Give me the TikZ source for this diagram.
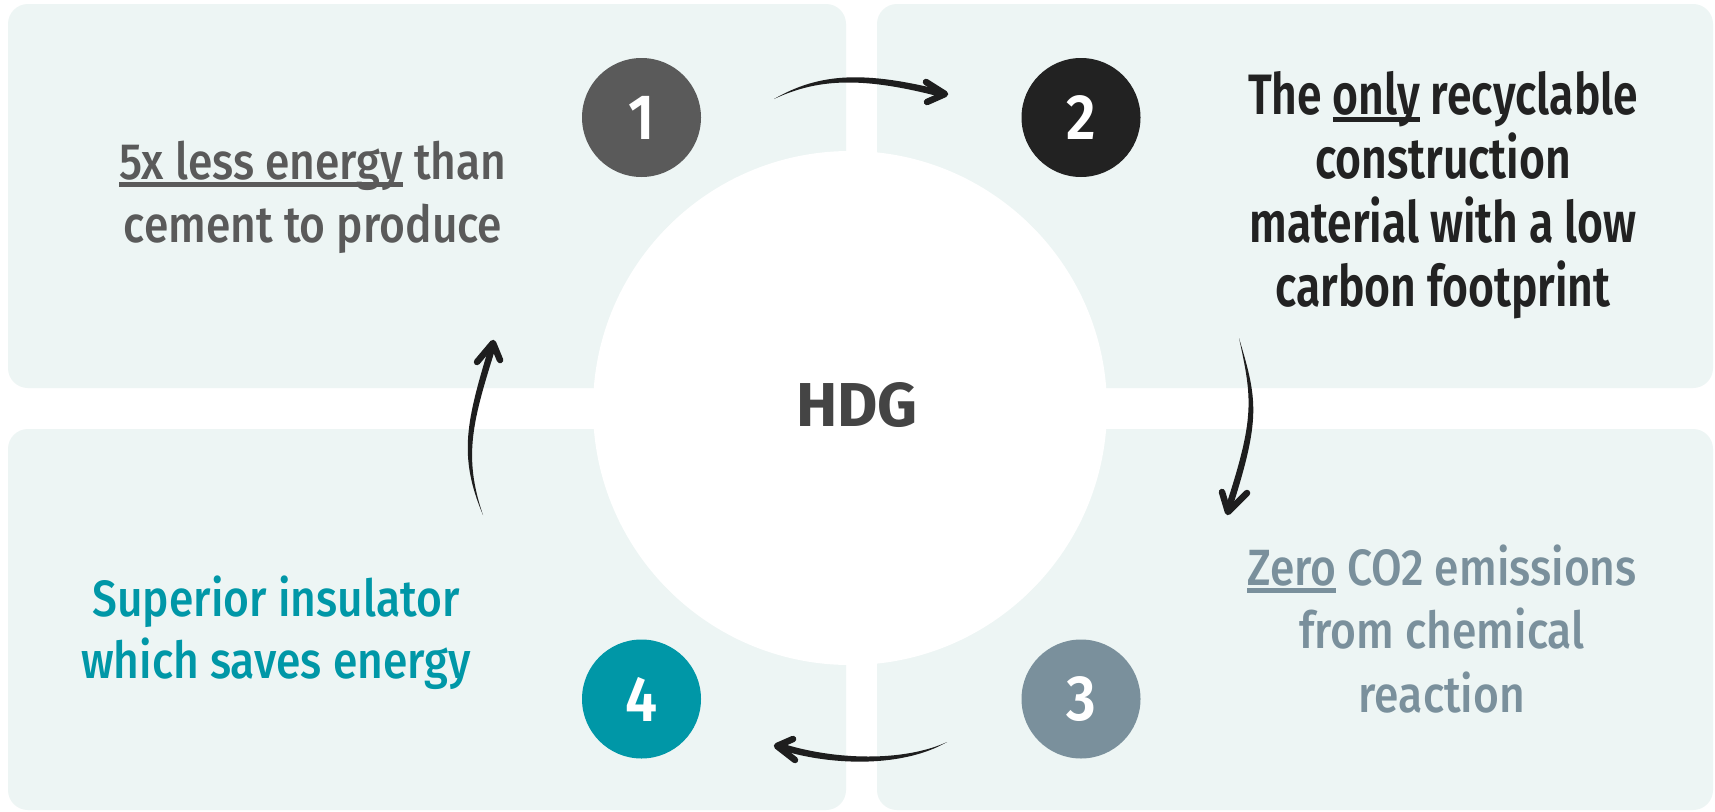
\documentclass[tikz,border=0pt]{standalone}
\usepackage{fontspec}
\setmainfont{Fira Sans}
\newfontfamily\fmed{Fira Sans Medium}[FakeStretch=0.87]
\newfontfamily\fsemi{Fira Sans SemiBold}[FakeStretch=0.78]
\newfontfamily\fnum{Fira Sans SemiBold}[FakeStretch=0.9]
\newfontfamily\fhead{Fira Sans Bold}
\usetikzlibrary{calc}

\definecolor{panel}{HTML}{EDF5F4}
\definecolor{ink}{HTML}{1E1E1E}
\definecolor{cone}{HTML}{5A5A5A}
\definecolor{ctwo}{HTML}{222222}
\definecolor{cthree}{HTML}{7A909C}
\definecolor{cfour}{HTML}{0097A7}
\definecolor{hdg}{HTML}{444444}

% underline that crosses the descenders, like a marker stroke
\newcommand\uln[1]{\leavevmode\setbox0=\hbox{#1}\rlap{\rule[-7.5pt]{\wd0}{4.3pt}}\box0\relax}

\tikzset{
  panelbox/.style={fill=panel, rounded corners=20pt},
  numdisc/.style={circle, minimum size=119pt, inner sep=0pt, text=white,
                  font=\fnum\fontsize{64}{64}\selectfont},
  blurb/.style={anchor=base, align=center, inner sep=0pt},
  shaft/.style={fill=ink},
  barb/.style={draw=ink, line width=6.5pt, line cap=round, line join=round},
}

\begin{document}
\begin{tikzpicture}[x=1pt, y=-1pt]
\useasboundingbox (0,0) rectangle (1715,811);
\fill[white] (0,0) rectangle (1715,811);

% four tinted quadrants
\fill[panelbox] (8,4) rectangle (846,388);
\fill[panelbox] (877,4) rectangle (1713,388);
\fill[panelbox] (8,429) rectangle (846,810);
\fill[panelbox] (877,429) rectangle (1713,810);

% central disc
\fill[white] (850,408) circle[radius=257pt];
\node[font=\fhead\fontsize{62}{62}\selectfont, text=hdg, anchor=base, inner sep=0pt] (hdg) at (857,426) {HDG};

% numbered discs
\node[numdisc, fill=cone]   (n1) at (641.5,117.5) {1};
\node[numdisc, fill=ctwo]   (n2) at (1081,117.5) {2};
\node[numdisc, fill=cthree] (n3) at (1081,699) {3};
\node[numdisc, fill=cfour]  (n4) at (641.5,699) {4};

% statements (each placed on the baseline of its last line)
\node[blurb, text=cone, font=\fmed\fontsize{51}{63}\selectfont] (t1) at (313,242)
  {\uln{5x less energy} than\\cement to produce};
\node[blurb, text=ctwo, font=\fsemi\fontsize{57}{64}\selectfont] (t2) at (1443,306)
  {The \uln{only} recyclable\\construction\\material with a low\\carbon footprint};
\node[blurb, text=cthree, font=\fmed\fontsize{51}{63.5}\selectfont] (t3) at (1442,712)
  {\uln{Zero} CO2 emissions\\from chemical\\reaction};
\node[blurb, text=cfour, font=\fmed\fontsize{51}{62}\selectfont] (t4) at (276,678)
  {Superior insulator\\which saves energy};

% hand-drawn arrows: tapered shaft plus open barb
% 1 -> 2
\coordinate (s12) at (774,99);
\coordinate (e12) at (943,94);
\fill[shaft] (s12) .. controls (820,72.5) and (865,71) .. ($(e12)+(0,-3.5)$)
  -- ($(e12)+(0,3.5)$) .. controls (865,77) and (820,77.5) .. cycle;
\draw[barb] ($(e12)+(-17,-12)$) -- ($(e12)+(2,0)$) -- ($(e12)+(-16,8)$);

% 2 -> 3
\coordinate (s23) at (1239,338);
\coordinate (e23) at (1228,510);
\fill[shaft] (s23) .. controls (1252.5,400) and (1255,418) .. ($(e23)+(-3.5,0)$)
  -- ($(e23)+(3.5,0)$) .. controls (1261,418) and (1257.5,400) .. cycle;
\draw[barb] ($(e23)+(-6,-18)$) -- ($(e23)+(0,2)$) -- ($(e23)+(19,-17)$);

% 3 -> 4
\coordinate (s34) at (947,742);
\coordinate (e34) at (779,746);
\fill[shaft] (s34) .. controls (905,761.5) and (835,761) .. ($(e34)+(0,-3.5)$)
  -- ($(e34)+(0,3.5)$) .. controls (835,767) and (905,766.5) .. cycle;
\draw[barb] ($(e34)+(14,-7)$) -- ($(e34)+(-2,0)$) -- ($(e34)+(16,14)$);

% 4 -> 1
\coordinate (s41) at (483,515);
\coordinate (e41) at (493,345);
\fill[shaft] (s41) .. controls (457.5,455) and (467,420) .. ($(e41)+(-3.5,0)$)
  -- ($(e41)+(3.5,0)$) .. controls (473,420) and (462.5,455) .. cycle;
\draw[barb] ($(e41)+(-16,17)$) -- ($(e41)+(0,-2)$) -- ($(e41)+(7,15)$);
\end{tikzpicture}
\end{document}
